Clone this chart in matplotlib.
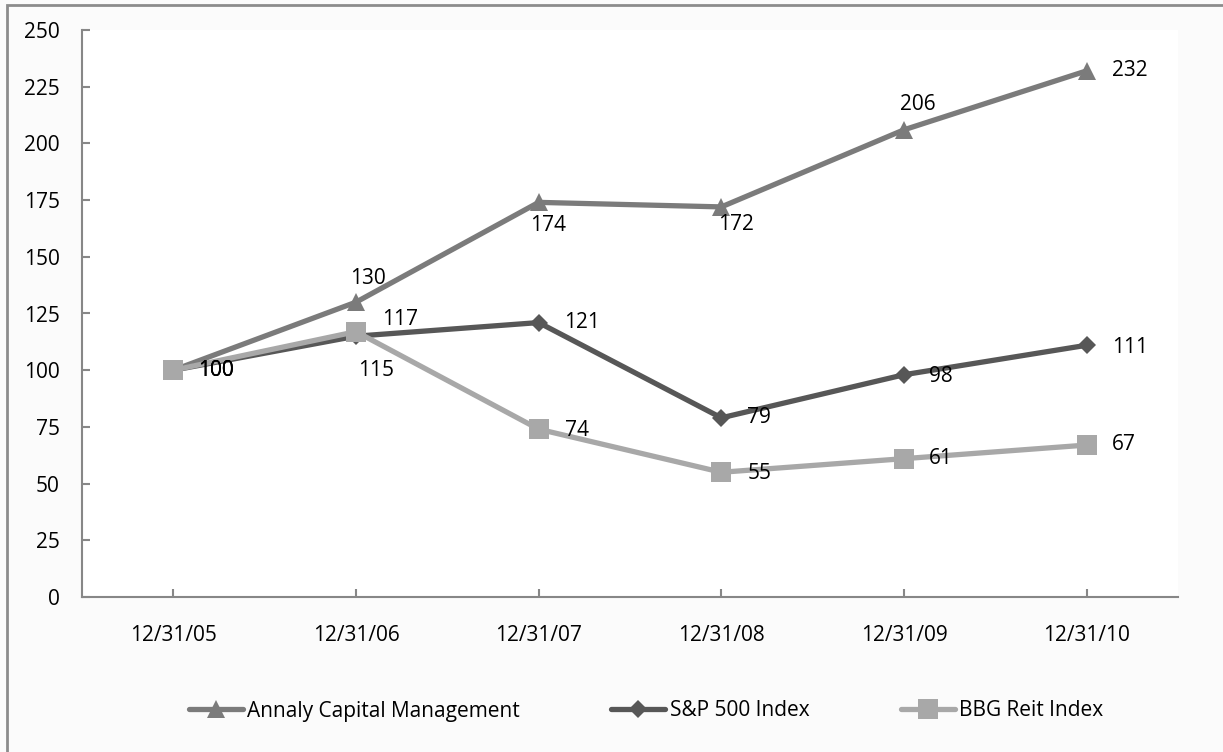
import numpy as np
import matplotlib.pyplot as plt
from matplotlib.patches import Rectangle

plt.rcParams['font.family'] = ['Open Sans', 'DejaVu Sans']

dates = ["12/31/05", "12/31/06", "12/31/07", "12/31/08", "12/31/09", "12/31/10"]
annaly = [100, 130, 174, 172, 206, 232]
sp500 = [100, 115, 121, 79, 98, 111]
reit = [100, 117, 74, 55, 61, 67]

series_names = ["Annaly Capital Management", "S&P 500 Index", "BBG Reit Index"]

# label offsets in pixels (dx, dy up)
annaly_off = [(25, 0), (-6, 24), (-9, -23), (-3, -18), (-4, 25), (25, 0)]
sp_off = [(25, 0), (2, -34), (25, 0), (26, 0), (25, -2), (25, -2)]
reit_off = [(25, 0), (26, 12), (26, -1), (26, -1), (25, 0), (25, 1)]

fig = plt.figure(figsize=(12.23, 7.52), dpi=100)
fig.patch.set_facecolor("#fbfbfb")
ax = fig.add_axes([82/1223, 1-597/752, (1178-82)/1223, (597-30)/752])
ax.set_facecolor("white")

# outer chart border
fig.patches.append(Rectangle((7/1223, -0.05), 1.2, 1-5/752+0.05, transform=fig.transFigure,
                             fill=False, edgecolor="#8c8c8c", linewidth=2, zorder=0))

x = np.arange(len(dates))
styles = [
    (annaly, "#7b7b7b", "^", 13, annaly_off),
    (sp500, "#575757", "D", 9, sp_off),
    (reit, "#a8a8a8", "s", 14, reit_off),
]
for (vals, col, mk, ms, offs), name in zip(styles, series_names):
    ax.plot(x, vals, color=col, linewidth=3.8, marker=mk, markersize=ms,
            markeredgewidth=0, label=name, solid_capstyle="round")
    for xi, v, (dx, dy) in zip(x, vals, offs):
        ax.annotate(str(v), (xi, v), xytext=(dx, dy), textcoords="offset pixels",
                    ha="left", va="center", fontsize=15, color="black")

ax.set_xlim(-0.5, len(dates)-0.5)
ax.set_ylim(0, 250)
ax.set_yticks(np.arange(0, 251, 25))
ax.set_xticks(x)
ax.set_xticklabels(dates)

for s in ["top", "right"]:
    ax.spines[s].set_visible(False)
for s in ["left", "bottom"]:
    ax.spines[s].set_color("#878787")
    ax.spines[s].set_linewidth(1.5)

ax.tick_params(axis="both", direction="in", length=6, width=1.5, color="#878787",
               labelsize=15, labelcolor="black")
ax.tick_params(axis="x", pad=20)
ax.tick_params(axis="y", pad=16)

fig.legend(loc="center", bbox_to_anchor=(646/1223, 1-711/752), ncol=3, frameon=False,
           fontsize=15, handlelength=2.6, handletextpad=0.2, columnspacing=4.4)

fig.savefig("out.png", dpi=100, facecolor=fig.get_facecolor())
